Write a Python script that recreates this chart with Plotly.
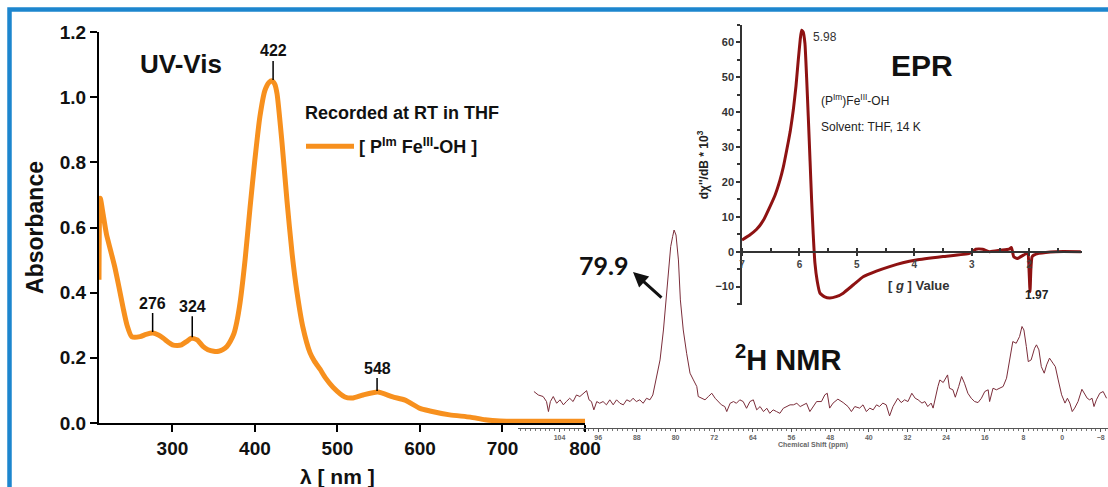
import plotly.graph_objects as go

W, H = 1108, 487


def X(p):
    return p / W


def Y(p):
    return 1 - p / H


# ---------------- UV-Vis data ----------------
uv_wavelength = [211, 212.5, 216, 220, 225, 230, 235, 240.5, 245, 250.6, 260.7, 268, 276.5, 283, 289,
                 295, 300, 306, 311, 317, 323, 330, 337, 343, 350, 356, 361, 366, 370, 374.6, 378,
                 382, 388, 394, 400, 406, 412, 417, 420.7, 424, 426.8, 432.8, 438.9, 445, 451, 458,
                 466.8, 472, 478.9, 485, 494.6, 509, 518.9, 531, 549, 567, 582, 600, 612, 636, 661,
                 679, 697, 750, 800]
uv_absorbance = [0.44, 0.69, 0.64, 0.58, 0.53, 0.48, 0.42, 0.35, 0.30, 0.265, 0.265, 0.272, 0.276,
                 0.27, 0.26, 0.248, 0.24, 0.238, 0.24, 0.25, 0.26, 0.255, 0.235, 0.225, 0.22, 0.22,
                 0.225, 0.235, 0.25, 0.275, 0.31, 0.37, 0.50, 0.66, 0.81, 0.94, 1.02, 1.045, 1.05,
                 1.04, 1.01, 0.86, 0.68, 0.52, 0.40, 0.295, 0.215, 0.19, 0.165, 0.14, 0.11, 0.08,
                 0.077, 0.086, 0.095, 0.08, 0.07, 0.045, 0.037, 0.025, 0.018, 0.01, 0.006, 0.005,
                 0.005]
uv_peak_nm = [276, 324, 422, 548]
uv_peak_abs = [0.276, 0.26, 1.05, 0.095]
uv_peak_offset = [-30, -32, -30, -24]
uv_xticks = [300, 400, 500, 600, 700, 800]
uv_yticks = [0.0, 0.2, 0.4, 0.6, 0.8, 1.0, 1.2]

# ---------------- EPR data ----------------
epr_g = [7.0, 6.87, 6.745, 6.62, 6.513, 6.42, 6.339, 6.28, 6.223, 6.16, 6.107, 6.06, 6.02, 5.985,
         5.962, 5.935, 5.904, 5.875, 5.846, 5.815, 5.788, 5.76, 5.73, 5.69, 5.643, 5.56, 5.47,
         5.36, 5.238, 5.06, 4.89, 4.66, 4.43, 4.2, 3.965, 3.5, 3.04, 2.93, 2.81, 2.69, 2.5, 2.35,
         2.31, 2.29, 2.27, 2.21, 2.10, 2.04, 2.02, 2.0, 1.985, 1.97, 1.95, 1.92, 1.83, 1.54, 1.1]
epr_signal = [3.35, 4.7, 6.4, 9.2, 12.9, 16.4, 20.5, 24.3, 29.0, 34.5, 40.6, 47.5, 55.0, 61.0,
              63.5, 63.0, 59.7, 50.0, 38.7, 26.0, 14.8, 5.0, -3.3, -8.5, -11.9, -13.0, -13.3,
              -12.9, -11.9, -9.5, -7.2, -5.6, -4.3, -3.2, -2.4, -1.4, -0.5, 0.7, 0.7, 0.0, 0.4,
              0.7, 1.2, 0.0, -1.4, -2.0, -1.0, -0.5, -0.5, -6.0, -11.5, -5.0, -1.5, -1.0, -0.5,
              0.0, 0.0]
epr_xticks = [7, 6, 5, 4, 3, 2]
epr_yticks = [-10, 0, 10, 20, 30, 40, 50, 60]

# ---------------- 2H NMR data ----------------
nmr_ppm = [109.3, 108.4, 107.4, 106.7, 106.3, 105.9, 105.3, 104.6, 103.9, 103.2, 102.6, 101.9,
           101.2, 100.5, 99.8, 99.1, 98.4, 97.9, 97.4, 96.9, 96.3, 95.7, 95.0, 94.3, 93.6, 92.9,
           92.2, 91.5, 90.8, 90.1, 89.4, 88.8, 88.1, 87.4, 86.7, 86.0, 85.3, 84.7, 84.1, 83.2,
           82.5, 82.0, 81.5, 81.0, 80.6, 80.3, 79.9, 79.4, 79.0, 78.4, 77.7, 77.0, 76.3, 75.6,
           75.3, 74.6, 73.9, 73.2, 72.5, 71.8, 71.2, 70.5, 69.8, 69.4, 68.7, 68.0, 67.4, 66.7,
           66.0, 65.3, 64.6, 63.9, 63.2, 62.5, 61.8, 61.1, 60.5, 59.8, 59.1, 58.4, 57.7, 57.0,
           56.3, 55.6, 54.9, 54.2, 53.6, 52.9, 52.2, 51.5, 50.8,
           49.8, 49.1, 48.6, 48.1, 47.4, 46.4, 45.3, 44.3, 43.6, 42.9, 41.9, 41.2, 40.5, 39.8,
           39.1, 38.4, 37.8, 37.1, 36.4, 35.7, 35.0, 34.3, 34.0, 33.3, 32.6, 31.9, 31.1, 30.4,
           29.8, 29.0, 28.4, 27.8, 27.1, 26.7, 26.2, 25.7, 25.3, 24.6, 23.7, 23.3, 22.6, 22.1,
           21.4, 20.8, 20.2, 19.5, 18.8, 18.1, 17.4, 16.7, 16.0, 15.3, 15.0, 14.3, 13.6, 12.9,
           12.2, 11.5, 10.8, 10.2, 9.5, 8.8, 8.3, 7.9, 7.4, 7.0, 6.4, 5.7, 5.3, 4.8, 4.3, 3.7,
           3.2, 2.6, 1.9, 1.4, 0.8, 0.1, -0.6, -1.1, -1.6, -2.1, -2.6, -3.3, -4.1, -4.7, -5.2,
           -5.7, -6.2, -6.6, -7.1, -7.8, -8.5, -9.2]
nmr_intensity = [6.6, 4.6, 3.7, 0.8, -5.0, 0.8, 3.7, -0.2, 1.8, -1.1, 0.8, 2.7,
                 0.8, 4.6, 3.7, 5.6, 7.1, 1.8, 0.8, -4.0, 0.8, -0.2, 0.8, -1.1, 1.8, -1.1,
                 1.8, -0.2, -1.1, 1.8, 0.8, 2.7, 0.8, 1.8, -0.2, 2.7, 1.8, 4.6, 13.3, 24.9,
                 42.2, 59.6, 76.9, 90.4, 96.2, 100.0, 97.1, 82.7, 59.6, 42.2, 28.7, 17.2, 13.3, 9.5,
                 3.7, 2.7, 1.8, 3.7, 5.6, 2.7, 0.8, -1.1, -2.1, -5.0, -0.2, 0.8, -0.2, 1.8,
                 0.8, -3.1, 0.8, 1.8, -4.0, -2.1, -5.0, -3.1, -6.0, -4.0, -5.0, -6.0, -3.1, -2.1,
                 -1.1, -1.1, -0.2, -2.1, -1.1, -0.2, -5.0, -2.1, 0.8,
                 0.8, 4.7, 5.6, -3.0, -0.1, 2.2, 0.2, -2.1, -5.0, -2.1, -3.0, -1.1, -5.0, -3.0,
                 -4.0, -1.1, -2.1, -0.1, -1.1, -7.5, -2.1, 1.8, 2.7, 0.2, 1.8, 0.8, 5.6, 2.7,
                 1.8, -0.1, 0.8, -2.1, -0.1, -3.0, 3.7, 9.5, 13.3, 11.8, 16.2, 8.5, 7.6, 3.3,
                 9.5, 15.3, 11.4, 5.6, 2.7, 0.8, 0.2, 2.7, 6.6, 7.6, 0.8, 8.5, 7.6, 8.5,
                 9.5, 14.3, 24.9, 35.5, 34.5, 38.4, 44.2, 42.2, 32.6, 23.9, 24.9, 31.6, 33.6, 30.7,
                 21.0, 17.2, 22.0, 25.9, 23.0, 21.0, 13.3, 4.7, -0.1, 2.7, -0.1, -5.0, -3.0, 0.8,
                 7.9, 4.7, 2.7, 1.8, 2.7, -2.1, 1.8, 5.6, 6.6, 2.7]
nmr_ticks = [104, 96, 88, 80, 72, 64, 56, 48, 40, 32, 24, 16, 8, 0, -8]

FONT = "Liberation Sans, Arial, sans-serif"
ORANGE = "#F7901E"

fig = go.Figure()

fig.add_trace(go.Scatter(
    x=uv_wavelength, y=uv_absorbance, mode="lines",
    line=dict(color=ORANGE, width=5, shape="spline", smoothing=0.6),
    name="<b>[ P<sup>Im</sup> Fe<sup>III</sup>-OH ]</b>",
    xaxis="x", yaxis="y", showlegend=True, hoverinfo="skip"))

fig.add_trace(go.Scatter(
    x=nmr_ppm, y=nmr_intensity, mode="lines",
    line=dict(color="#7B2D3A", width=1),
    xaxis="x2", yaxis="y2", showlegend=False, hoverinfo="skip"))

fig.add_trace(go.Scatter(
    x=epr_g, y=epr_signal, mode="lines",
    line=dict(color="#8E1212", width=3, shape="spline", smoothing=0.4),
    xaxis="x3", yaxis="y3", showlegend=False, hoverinfo="skip"))

annotations = []
for nm, a, off in zip(uv_peak_nm, uv_peak_abs, uv_peak_offset):
    annotations.append(dict(
        x=nm, y=a, xref="x", yref="y", text=str(nm), showarrow=True,
        arrowhead=0, arrowwidth=1.5, arrowcolor="black", ax=0, ay=off, standoff=1,
        font=dict(family=FONT, size=16, color="#111", weight="bold")))


def txt(text, px, py, size, bold=True, anchor="center", color="#111", family=FONT):
    annotations.append(dict(
        x=X(px), y=Y(py), xref="paper", yref="paper", text=text, showarrow=False,
        xanchor=anchor, yanchor="middle",
        font=dict(family=family, size=size, color=color, weight="bold" if bold else "normal")))


txt("UV-Vis", 181, 64, 26)
txt("Recorded at RT in THF", 303, 113, 18, anchor="left")
txt("EPR", 922, 65, 30)
txt("5.98", 811, 37, 12, bold=False, anchor="left", color="#333")
txt("(P<sup>Im</sup>)Fe<sup>III</sup>-OH", 819, 100, 12, bold=False, anchor="left", color="#222")
txt("Solvent: THF, 14 K", 819, 127, 12, bold=False, anchor="left", color="#222")
txt("[ <i>g</i> ] Value", 918, 285, 13, color="#333")
txt("1.97", 1037, 295, 12, color="#222")
txt("79.9", 603, 265, 25, family="Lato, Liberation Sans, sans-serif")
txt("<sup>2</sup>H NMR", 788, 358, 29)
txt("λ [ nm ]", 337, 476, 21)

annotations.append(dict(
    x=X(633), y=Y(272), xref="paper", yref="paper", text="", showarrow=True,
    arrowhead=2, arrowsize=1, arrowwidth=3, arrowcolor="#111", ax=30, ay=27))

shapes = [dict(type="rect", xref="paper", yref="paper",
               x0=X(9.5), x1=1.05, y0=-0.1, y1=Y(9.5),
               line=dict(color="#1D86CE", width=4.5), fillcolor="rgba(0,0,0,0)", layer="above")]

fig.update_layout(
    width=W, height=H, margin=dict(l=0, r=0, t=0, b=0, autoexpand=False),
    paper_bgcolor="white", plot_bgcolor="rgba(0,0,0,0)",
    font=dict(family=FONT, color="#111"),
    showlegend=True,
    legend=dict(
        x=X(301), y=Y(128), xanchor="left", yanchor="top",
        bgcolor="rgba(0,0,0,0)",
        font=dict(family=FONT, size=18, color="#111"),
        itemwidth=48, tracegroupgap=0),
    xaxis=dict(
        domain=[X(99), X(585)], range=[211, 800], anchor="y", automargin=False,
        tickvals=uv_xticks, ticks="outside", ticklen=7, tickwidth=2, tickcolor="black",
        showline=True, linecolor="black", linewidth=2, showgrid=False, zeroline=False,
        tickfont=dict(family=FONT, size=19, color="#111", weight="bold"),
        layer="below traces"),
    yaxis=dict(
        domain=[Y(423), Y(32)], range=[0, 1.2], anchor="x", automargin=False,
        tickvals=uv_yticks, tickformat=".1f", ticks="outside", ticklen=7, tickwidth=2,
        tickcolor="black", showline=True, linecolor="black", linewidth=2,
        showgrid=False, zeroline=False,
        tickfont=dict(family=FONT, size=19, color="#111", weight="bold"),
        title=dict(text="Absorbance", standoff=10,
                   font=dict(family=FONT, size=23, color="#111", weight="bold"))),
    xaxis2=dict(
        domain=[X(518), 1.0], range=[112.6, -9.5], anchor="y2", automargin=False,
        tickvals=nmr_ticks, ticks="outside", ticklen=3, tickwidth=1, tickcolor="#555",
        minor=dict(dtick=1, ticks="outside", ticklen=2, tickcolor="#777"),
        showline=True, linecolor="#555", linewidth=1, showgrid=False, zeroline=False,
        tickfont=dict(family=FONT, size=7, color="#666", weight="bold"),
        title=dict(text="Chemical Shift (ppm)", standoff=0,
                   font=dict(family=FONT, size=7, color="#666", weight="bold"))),
    yaxis2=dict(domain=[Y(428), Y(220)], range=[-14.5, 105.8], anchor="x2", visible=False,
                automargin=False),
    xaxis3=dict(
        domain=[X(742), X(1082)], range=[7, 1.08], anchor="free", position=Y(251.7),
        automargin=False,
        tickvals=epr_xticks, ticks="outside", ticklen=4, tickwidth=1.5, tickcolor="#333",
        minor=dict(dtick=0.5, ticks="inside", ticklen=3, tickcolor="#333"),
        showline=True, linecolor="#333", linewidth=1.5, showgrid=False, zeroline=False,
        tickfont=dict(family=FONT, size=10, color="#444", weight="bold")),
    yaxis3=dict(
        domain=[Y(305), Y(25)], range=[-15.3, 65], anchor="x3", automargin=False,
        tickvals=epr_yticks, ticks="outside", ticklen=4, tickwidth=1.5, tickcolor="#333",
        minor=dict(dtick=5, ticks="outside", ticklen=3, tickcolor="#333"),
        showline=True, linecolor="#333", linewidth=1.5, showgrid=False, zeroline=False,
        tickfont=dict(family=FONT, size=11, color="#333", weight="bold"),
        title=dict(text="dχ''/dB * 10<sup>3</sup>", standoff=4,
                   font=dict(family=FONT, size=12, color="#222", weight="bold"))),
    annotations=annotations,
    shapes=shapes,
)

fig.write_html("out.html", config={"displayModeBar": False},
               post_script="document.body.style.margin='0px';")
